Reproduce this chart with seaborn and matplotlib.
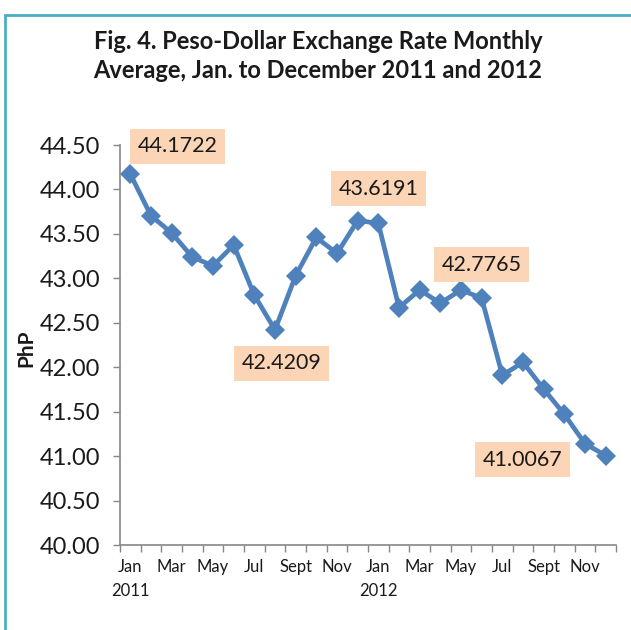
import matplotlib
matplotlib.use("Agg")
import matplotlib.pyplot as plt
import seaborn as sns
import pandas as pd
from matplotlib.patches import Rectangle
from matplotlib.ticker import FixedLocator, NullFormatter

months = ["Jan", "Feb", "Mar", "Apr", "May", "Jun", "Jul", "Aug", "Sept", "Oct", "Nov", "Dec"] * 2
years = [2011] * 12 + [2012] * 12
rates = [44.1722, 43.705, 43.51, 43.24, 43.14, 43.375, 42.81, 42.4209, 43.03, 43.46, 43.28, 43.65,
         43.6191, 42.67, 42.87, 42.72, 42.87, 42.7765, 41.91, 42.055, 41.755, 41.47, 41.14, 41.0067]
label_idx = [0, 7, 12, 17, 23]
label_offsets = [(34, 20), (5, -24), (0, 25), (0, 24), (-60, -3)]
yticks = [40.0, 40.5, 41.0, 41.5, 42.0, 42.5, 43.0, 43.5, 44.0, 44.5]

df = pd.DataFrame({"idx": range(len(rates)), "month": months, "year": years, "rate": rates})

sns.set_style("white")
plt.rcParams["font.family"] = ["Lato", "DejaVu Sans"]

fig = plt.figure(figsize=(6.31, 6.30), dpi=100)
ax = fig.add_axes([120 / 631, 1 - 545 / 630, (616 - 120) / 631, 400 / 630])

sns.lineplot(data=df, x="idx", y="rate", ax=ax, color="#4F81BD", linewidth=3.4,
             marker="D", markersize=10.5, markeredgecolor="#4F81BD", markeredgewidth=0)

ax.set_xlim(-0.5, len(rates) - 0.5)
ax.set_ylim(40.0, 44.5)
ax.set_yticks(yticks)
ax.set_yticklabels([f"{v:.2f}" for v in yticks], fontsize=17, color="#1a1a1a")

# x tick labels every other month, ticks at category boundaries
major = list(range(0, 24, 2))
ax.set_xticks(major)
ax.set_xticklabels([months[i] for i in major], fontsize=12, color="#1a1a1a")
ax.tick_params(axis="x", which="major", length=0, pad=10)
ax.xaxis.set_minor_locator(FixedLocator([i - 0.5 for i in range(25)]))
ax.xaxis.set_minor_formatter(NullFormatter())
ax.tick_params(axis="x", which="minor", length=5, width=1, color="#868686", direction="out", bottom=True)
ax.tick_params(axis="y", length=5, width=1, color="#868686", direction="out", left=True, pad=9)

for i in major:
    if months[i] == "Jan":
        ax.annotate(str(years[i]), xy=(i, 0), xycoords=("data", "axes fraction"),
                    xytext=(0, -33), textcoords="offset points", ha="center", va="center",
                    fontsize=12, color="#1a1a1a")

sns.despine(ax=ax)
for s in ["left", "bottom"]:
    ax.spines[s].set_color("#868686")
    ax.spines[s].set_linewidth(1.2)
ax.set_xlabel("")
ax.set_ylabel("")

for i, (dx, dy) in zip(label_idx, label_offsets):
    ax.annotate(f"{rates[i]:.4f}", (i, rates[i]), xytext=(dx, dy), textcoords="offset points",
                ha="center", va="center", fontsize=15.5, color="#1a1a1a",
                bbox=dict(boxstyle="square,pad=0.35", fc="#FBD5B5", ec="none"))

fig.text(26 / 631, 1 - 348 / 630, "PhP", rotation=90, ha="center", va="center",
         fontsize=15, fontweight="bold", color="#1a1a1a")

fig.text(318 / 631, 1 - 56 / 630,
         "Fig. 4. Peso-Dollar Exchange Rate Monthly\nAverage, Jan. to December 2011 and 2012",
         ha="center", va="center", fontsize=17, fontweight="bold", color="#1a1a1a", linespacing=1.35)

fig.patches.append(Rectangle((5 / 631, -0.1), 1.2, 1 - 15 / 630 + 0.1, transform=fig.transFigure,
                             fill=False, edgecolor="#4BACC6", linewidth=2))

fig.savefig("out.png", dpi=100)
